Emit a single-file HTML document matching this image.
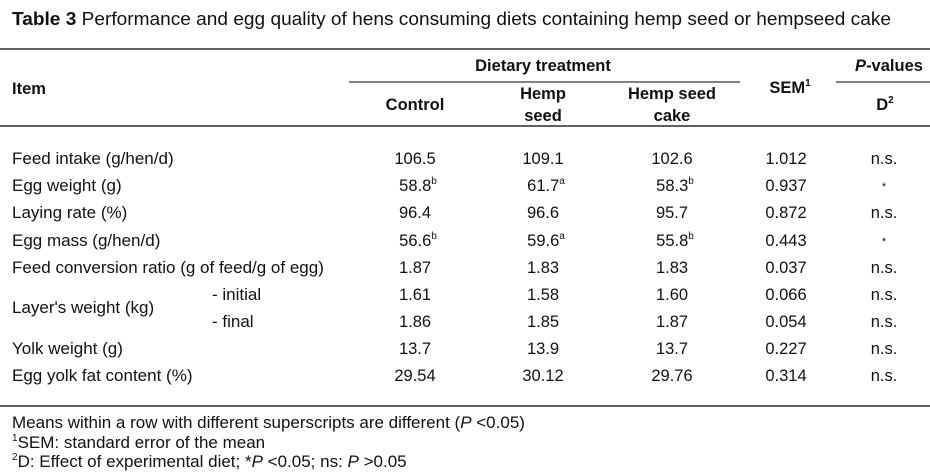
<!DOCTYPE html>
<html><head><meta charset="utf-8">
<style>
html,body{margin:0;padding:0;background:#fff;}
svg{display:block;font-family:"Liberation Sans",Arial,sans-serif;fill:#111;}
</style></head>
<body>
<svg id="t" width="930" height="472" viewBox="0 0 930 472">
  <text x="12" y="25" font-size="18" textLength="879" lengthAdjust="spacingAndGlyphs"><tspan font-weight="bold">Table 3</tspan> Performance and egg quality of hens consuming diets containing hemp seed or hempseed cake</text>
  <line x1="0" y1="49" x2="930" y2="49" stroke="#000" stroke-width="1.3"/>
  <line x1="349" y1="82" x2="740" y2="82" stroke="#000" stroke-width="1"/>
  <line x1="836" y1="82" x2="930" y2="82" stroke="#000" stroke-width="1"/>
  <line x1="0" y1="126" x2="930" y2="126" stroke="#000" stroke-width="1.3"/>
  <line x1="0" y1="406" x2="930" y2="406" stroke="#000" stroke-width="1.3"/>
  <g font-size="16.5" font-weight="bold" text-anchor="middle">
    <text x="12" y="94" text-anchor="start">Item</text>
    <text x="543" y="71">Dietary treatment</text>
    <text x="415" y="110">Control</text>
    <text x="543" y="99">Hemp</text>
    <text x="543" y="121">seed</text>
    <text x="672" y="99">Hemp seed</text>
    <text x="672" y="121">cake</text>
    <text x="790" y="93">SEM<tspan font-size="10" dy="-7">1</tspan></text>
    <text x="889" y="71"><tspan font-style="italic">P</tspan>-values</text>
    <text x="885" y="110">D<tspan font-size="10" dy="-7">2</tspan></text>
  </g>
  <g id="rows" font-size="16.5"></g>
  <g font-size="17">
    <text x="12" y="428">Means within a row with different superscripts are different (<tspan font-style="italic">P</tspan> &lt;0.05)</text>
    <text x="12" y="448"><tspan font-size="10" dy="-7">1</tspan><tspan dy="7">SEM: standard error of the mean</tspan></text>
    <text x="12" y="467"><tspan font-size="10" dy="-7">2</tspan><tspan dy="7">D: Effect of experimental diet;  *</tspan><tspan font-style="italic">P</tspan> &lt;0.05;  ns: <tspan font-style="italic">P</tspan> &gt;0.05</text>
  </g>
</svg>
<script>
const items = ["Feed intake (g/hen/d)","Egg weight (g)","Laying rate (%)","Egg mass (g/hen/d)","Feed conversion ratio (g of feed/g of egg)","- initial","- final","Yolk weight (g)","Egg yolk fat content (%)"];
const control = ["106.5","58.8","96.4","56.6","1.87","1.61","1.86","13.7","29.54"];
const controlSup = ["","b","","b","","","","",""];
const hempSeed = ["109.1","61.7","96.6","59.6","1.83","1.58","1.85","13.9","30.12"];
const hempSeedSup = ["","a","","a","","","","",""];
const hempCake = ["102.6","58.3","95.7","55.8","1.83","1.60","1.87","13.7","29.76"];
const hempCakeSup = ["","b","","b","","","","",""];
const sem = ["1.012","0.937","0.872","0.443","0.037","0.066","0.054","0.227","0.314"];
const pD = ["n.s.","*","n.s.","*","n.s.","n.s.","n.s.","n.s.","n.s."];
const NS="http://www.w3.org/2000/svg";
const g=document.getElementById('rows');
const rowY=[158,185,212,240,267,294,321,348,375];
function txt(x,y,s,anchor,sup,fs){
  const t=document.createElementNS(NS,'text');
  t.setAttribute('x',x);t.setAttribute('y',y);
  if(anchor)t.setAttribute('text-anchor',anchor);
  if(fs)t.setAttribute('font-size',fs);
  t.textContent=s;
  if(sup){const sp=document.createElementNS(NS,'tspan');sp.setAttribute('font-size','10');sp.setAttribute('dy','-7');sp.textContent=sup;t.appendChild(sp);}
  g.appendChild(t);return t;
}
items.forEach((it,i)=>{
  const y=rowY[i]+6;
  const lx = it.startsWith('-') ? 212 : 12;
  let t=txt(lx,y,it,'start',null,'17');
  
  
  t=txt(415+(controlSup[i]?3:0),y,control[i],'middle',controlSup[i]);
  
  
  t=txt(543+(hempSeedSup[i]?3:0),y,hempSeed[i],'middle',hempSeedSup[i]);
  
  
  t=txt(672+(hempCakeSup[i]?3:0),y,hempCake[i],'middle',hempCakeSup[i]);
  
  
  t=txt(786,y,sem[i],'middle');
  
  
  t=txt(884,pD[i]==='*'?y-1:y,pD[i],'middle',null,pD[i]==='*'?'11':null);
  
  
});
const lw=txt(12,313,"Layer's weight (kg)",'start',null,'17');


</script>
</body></html>
